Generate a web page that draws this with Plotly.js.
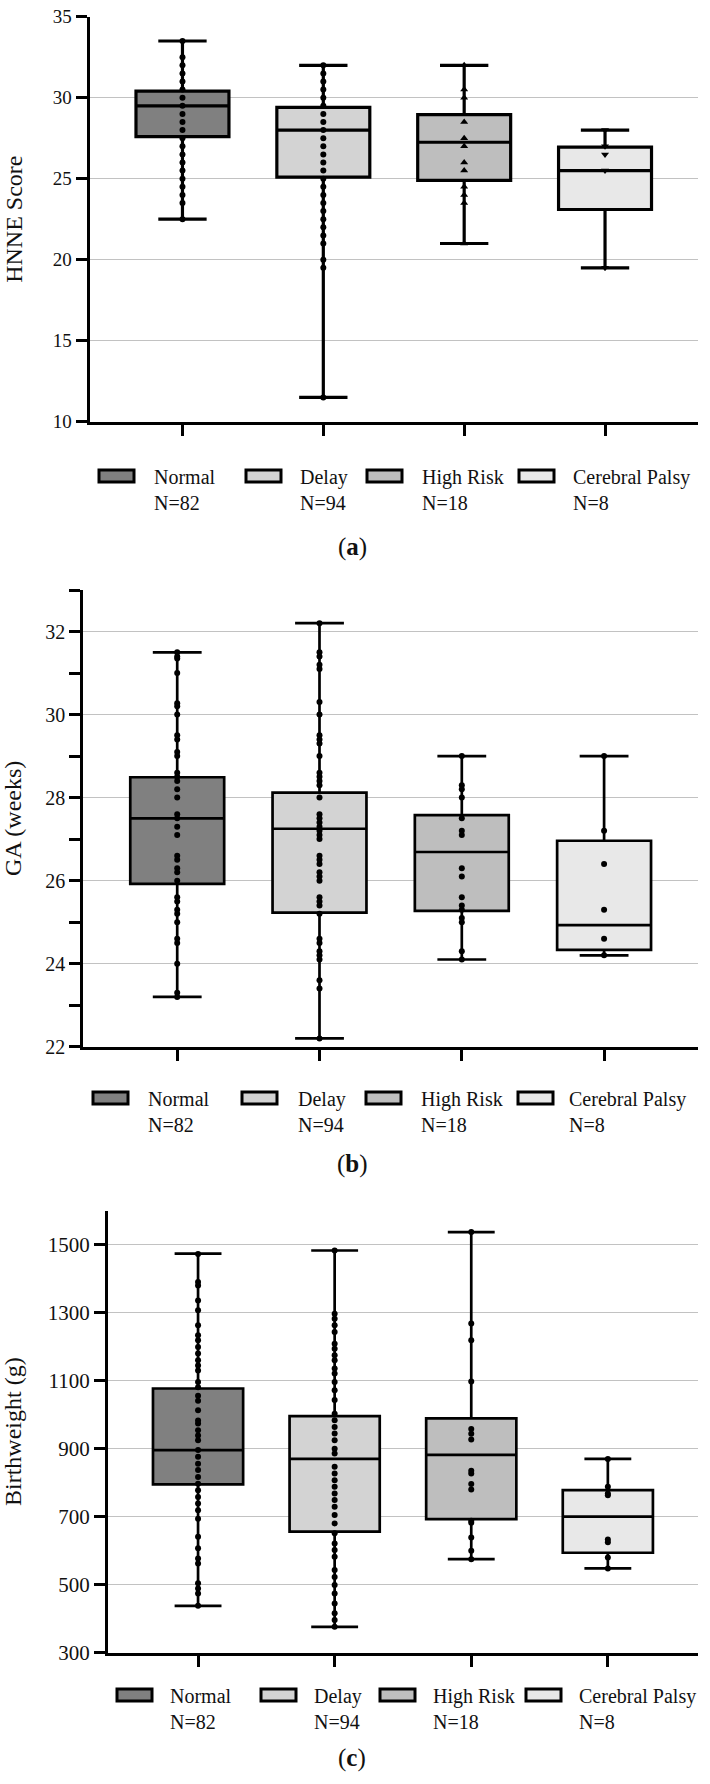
<!DOCTYPE html>
<html>
<head>
<meta charset="utf-8">
<script src="https://cdn.plot.ly/plotly-3.0.1.min.js"></script>
<style>html,body{margin:0;padding:0;background:#fff;}#chart{width:710px;height:1784px;}</style>
</head>
<body>
<div id="chart"></div>
<script>
// ---------- data ----------
const categories = ['Normal', 'Delay', 'High Risk', 'Cerebral Palsy'];
const groupN = [82, 94, 18, 8];
const fillColors = ['#808080', '#d3d3d3', '#bebebe', '#e8e8e8'];
const panelLabels = ['a', 'b', 'c'];

// (a) HNNE Score
const hnneQ1 = [27.6, 25.1, 24.9, 23.1];
const hnneMedian = [29.5, 28.0, 27.25, 25.5];
const hnneQ3 = [30.4, 29.4, 28.95, 26.95];
const hnneMin = [22.5, 11.5, 21.0, 19.5];
const hnneMax = [33.5, 32.0, 32.0, 28.0];
const hnneNormal = [33.5, 32.5, 32, 31.5, 31, 30.5, 30, 29.5, 29, 28.5, 28, 27.5, 27, 26.5, 26, 25.5, 25, 24.5, 24, 23.5, 22.5];
const hnneDelay = [32, 31.5, 31, 30.5, 30, 29.5, 29, 28.5, 28, 27.5, 27, 26.5, 26, 25.5, 25, 24.5, 24, 23.5, 23, 22.5, 22, 21.5, 21, 20, 19.5, 11.5];
const hnneHighRisk = [32, 30.5, 30, 28.5, 27.5, 27, 26, 25.5, 24.5, 24, 23.5, 21];
const hnneCP = [28, 27, 26.5, 25.5, 19.5];

// (b) GA (weeks)
const gaQ1 = [25.92, 25.23, 25.27, 24.33];
const gaMedian = [27.5, 27.25, 26.69, 24.93];
const gaQ3 = [28.49, 28.12, 27.58, 26.96];
const gaMin = [23.2, 22.2, 24.1, 24.2];
const gaMax = [31.5, 32.2, 29.0, 29.0];
const gaNormal = [31.5, 31.4, 31.35, 31.0, 30.27, 30.2, 30.0, 29.5, 29.4, 29.1, 29.0, 28.6, 28.5, 28.4, 28.2, 28.0, 27.6, 27.5, 27.3, 27.1, 26.6, 26.5, 26.3, 26.2, 26.0, 25.6, 25.5, 25.3, 25.2, 25.0, 24.6, 24.5, 24.0, 23.3, 23.2];
const gaDelay = [32.2, 31.5, 31.4, 31.2, 31.1, 30.3, 30.0, 29.5, 29.4, 29.3, 29.0, 28.6, 28.5, 28.4, 28.3, 28.0, 27.6, 27.5, 27.4, 27.3, 27.2, 27.1, 27.0, 26.6, 26.5, 26.4, 26.2, 26.1, 26.0, 25.6, 25.5, 25.4, 25.2, 24.6, 24.5, 24.3, 24.2, 24.1, 23.6, 23.4, 22.2];
const gaHighRisk = [29.0, 28.3, 28.2, 28.0, 27.5, 27.2, 27.1, 26.3, 26.1, 25.6, 25.4, 25.3, 25.1, 25.0, 24.3, 24.1];
const gaCP = [29.0, 27.2, 26.4, 25.3, 24.6, 24.2];

// (c) Birthweight (g)
const bwQ1 = [795, 656, 693, 594];
const bwMedian = [896, 870, 882, 700];
const bwQ3 = [1077, 996, 989, 778];
const bwMin = [438, 376, 575, 548];
const bwMax = [1474, 1483, 1537, 870];
const bwNormal = [1473, 1390, 1380, 1336, 1307, 1263, 1234, 1219, 1199, 1180, 1160, 1145, 1130, 1096, 1081, 1056, 1041, 1013, 983, 974, 954, 939, 925, 896, 876, 856, 837, 817, 797, 778, 758, 739, 719, 694, 641, 607, 577, 562, 504, 489, 474, 438];
const bwDelay = [1483, 1297, 1282, 1263, 1243, 1209, 1194, 1175, 1160, 1136, 1121, 1096, 1072, 1043, 1003, 984, 964, 945, 925, 900, 886, 847, 827, 807, 788, 768, 749, 729, 705, 680, 651, 621, 602, 582, 543, 523, 499, 474, 445, 416, 396, 376];
const bwHighRisk = [1537, 1268, 1219, 1098, 958, 944, 927, 835, 827, 796, 780, 688, 682, 639, 600, 575];
const bwCP = [870, 788, 768, 763, 633, 625, 580, 548];

// ---------- geometry (pixels in a 710 x 1784 page) ----------
const W = 710, H = 1784;
const px = v => v / W;
const py = v => 1 - v / H;
const FONT = 'Liberation Serif, Times New Roman, serif';

const panels = [
  { q1: hnneQ1, med: hnneMedian, q3: hnneQ3, lo: hnneMin, hi: hnneMax,
    pts: [hnneNormal, hnneDelay, hnneHighRisk, hnneCP],
    symbols: ['circle', 'circle', 'triangle-up', 'triangle-down'],
    title: 'HNNE Score', range: [10, 35], tick0: 10, dtick: 5, minor: null,
    left: 89.5, top: 16.7, bottom: 421.7, tickSize: 19, standoff: 24, lw: 3.2,
    legTop: 476, legSym: [99, 246, 367, 519], legTxt: [152, 298, 420, 571], labelY: 547 },
  { q1: gaQ1, med: gaMedian, q3: gaQ3, lo: gaMin, hi: gaMax,
    pts: [gaNormal, gaDelay, gaHighRisk, gaCP],
    symbols: ['circle', 'circle', 'circle', 'circle'],
    title: 'GA (weeks)', range: [22, 33], tick0: 22, dtick: 2, minor: 1,
    left: 83.3, top: 590, bottom: 1046.7, tickSize: 20, standoff: 22, lw: 2.7,
    legTop: 1098, legSym: [93, 242, 366, 518], legTxt: [146, 296, 419, 567], labelY: 1164 },
  { q1: bwQ1, med: bwMedian, q3: bwQ3, lo: bwMin, hi: bwMax,
    pts: [bwNormal, bwDelay, bwHighRisk, bwCP],
    symbols: ['circle', 'circle', 'circle', 'circle'],
    title: 'Birthweight (g)', range: [300, 1600], tick0: 300, dtick: 200, minor: null,
    left: 107.9, top: 1210.7, bottom: 1652.7, tickSize: 21, standoff: 22, lw: 2.7,
    legTop: 1695, legSym: [117, 261, 380, 526], legTxt: [168, 312, 431, 577], labelY: 1758 }
];

const traces = [];
const layout = {
  width: W, height: H,
  margin: { l: 0, r: 0, t: 0, b: 0 },
  paper_bgcolor: '#ffffff', plot_bgcolor: '#ffffff',
  showlegend: false, boxmode: 'overlay',
  font: { family: FONT, color: '#111111' },
  shapes: [], annotations: []
};

panels.forEach((p, k) => {
  const sfx = k === 0 ? '' : String(k + 1);
  const xa = 'x' + sfx, ya = 'y' + sfx;
  categories.forEach((cat, i) => {
    traces.push({
      type: 'box', xaxis: xa, yaxis: ya, name: cat,
      x: [cat], q1: [p.q1[i]], median: [p.med[i]], q3: [p.q3[i]],
      lowerfence: [p.lo[i]], upperfence: [p.hi[i]],
      boxpoints: false, width: 0.66, whiskerwidth: 0.52,
      fillcolor: fillColors[i], line: { color: '#000000', width: p.lw },
      hoverinfo: 'skip'
    });
  });
  categories.forEach((cat, i) => {
    traces.push({
      type: 'scatter', mode: 'markers', xaxis: xa, yaxis: ya, name: cat,
      x: p.pts[i].map(() => cat), y: p.pts[i],
      marker: { symbol: p.symbols[i], size: p.symbols[i] === 'circle' ? 6 : 7, color: '#000000' },
      hoverinfo: 'y'
    });
  });
  layout['xaxis' + sfx] = {
    domain: [px(p.left), px(698)], anchor: ya,
    type: 'category', categoryorder: 'array', categoryarray: categories,
    range: [-0.66, 3.66], showticklabels: false,
    ticks: 'outside', ticklen: 11, tickwidth: 3, tickcolor: '#000000',
    showline: true, linecolor: '#000000', linewidth: 3,
    showgrid: false, zeroline: false, fixedrange: true
  };
  const yax = {
    domain: [py(p.bottom), py(p.top)], anchor: xa,
    range: p.range, tick0: p.tick0, dtick: p.dtick,
    ticks: 'outside', ticklen: 11, tickwidth: 3, tickcolor: '#000000',
    tickfont: { family: FONT, size: p.tickSize, color: '#111111' },
    showline: true, linecolor: '#000000', linewidth: 3,
    showgrid: true, gridcolor: '#c2c2c2', gridwidth: 1.5,
    zeroline: false, fixedrange: true,
    title: { text: p.title, font: { family: FONT, size: 24, color: '#111111' }, standoff: p.standoff }
  };
  if (p.minor) {
    yax.minor = { dtick: p.minor, ticks: 'outside', ticklen: 11, tickwidth: 3, tickcolor: '#000000', showgrid: false };
  }
  layout['yaxis' + sfx] = yax;

  // legend drawn from the category arrays
  categories.forEach((cat, i) => {
    layout.shapes.push({
      type: 'rect', xref: 'paper', yref: 'paper',
      x0: px(p.legSym[i]), x1: px(p.legSym[i] + 35),
      y0: py(p.legTop + 6), y1: py(p.legTop - 6),
      fillcolor: fillColors[i], line: { color: '#000000', width: 3 }
    });
    layout.annotations.push({
      xref: 'paper', yref: 'paper', x: px(p.legTxt[i]), y: py(p.legTop - 12),
      xanchor: 'left', yanchor: 'top', align: 'left', showarrow: false,
      text: cat + '<br>N=' + groupN[i],
      font: { family: FONT, size: 20, color: '#111111' }
    });
  });
  layout.annotations.push({
    xref: 'paper', yref: 'paper', x: px(352), y: py(p.labelY),
    xanchor: 'center', yanchor: 'middle', showarrow: false,
    text: '(<b>' + panelLabels[k] + '</b>)',
    font: { family: FONT, size: 25, color: '#111111' }
  });
});

Plotly.newPlot('chart', traces, layout, { staticPlot: true, displayModeBar: false });
</script>
</body>
</html>
